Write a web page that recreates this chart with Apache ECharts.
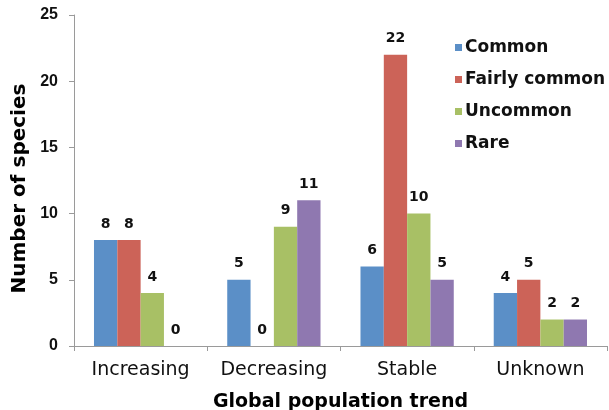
<!DOCTYPE html>
<html>
<head>
<meta charset="utf-8">
<script src="https://cdn.jsdelivr.net/npm/echarts@6/dist/echarts.min.js"></script>
<style>
  html, body { margin: 0; padding: 0; background: #fff; }
  #chart { width: 609px; height: 410px; }
</style>
</head>
<body>
<div id="chart"></div>
<script>
// Species counts by global population trend, grouped by abundance class
const trends = ['Increasing', 'Decreasing', 'Stable', 'Unknown'];
const common = [8, 5, 6, 4];
const fairlyCommon = [8, 0, 22, 5];
const uncommon = [4, 9, 10, 2];
const rare = [0, 11, 5, 2];
const yTicks = [0, 5, 10, 15, 20, 25];

const HEAVY = '"DejaVu Sans", sans-serif';
const PLAIN = '"Liberation Sans", Arial, sans-serif';

function makeSeries(name, data, color) {
  return {
    name: name,
    type: 'bar',
    data: data,
    barGap: '0%',
    barCategoryGap: '30%',
    itemStyle: { color: color },
    label: {
      show: true,
      position: 'top',
      distance: 9,
      color: '#111',
      fontFamily: HEAVY,
      fontWeight: 'bold',
      fontSize: 14
    }
  };
}

const chart = echarts.init(document.getElementById('chart'));
chart.setOption({
  animation: false,
  backgroundColor: '#fff',
  grid: { left: 74, right: 2, top: 15, bottom: 64, containLabel: false, outerBoundsMode: 'none' },
  legend: {
    orient: 'vertical',
    left: 450,
    top: 34,
    itemWidth: 7,
    itemHeight: 7,
    itemGap: 15,
    icon: 'rect',
    textStyle: { fontFamily: HEAVY, fontWeight: 'bold', fontSize: 17, color: '#111', padding: [0, 0, 0, -2] },
    data: ['Common', 'Fairly common', 'Uncommon', 'Rare']
  },
  xAxis: {
    type: 'category',
    data: trends,
    name: 'Global population trend',
    nameLocation: 'middle',
    nameGap: 47,
    nameTextStyle: { fontFamily: HEAVY, fontWeight: 'bold', fontSize: 19, color: '#000' },
    axisLine: { lineStyle: { color: '#9a9a9a' } },
    axisTick: { show: true, alignWithLabel: false, length: 5, lineStyle: { color: '#9a9a9a' } },
    axisLabel: { interval: 0, fontFamily: HEAVY, fontSize: 19, color: '#111', margin: 15 }
  },
  yAxis: {
    type: 'value',
    min: yTicks[0],
    max: yTicks[yTicks.length - 1],
    interval: 5,
    name: 'Number of species',
    nameLocation: 'middle',
    nameGap: 34,
    nameTextStyle: { fontFamily: HEAVY, fontWeight: 'bold', fontSize: 20, color: '#000', padding: [0, 16, 0, 0] },
    axisLine: { show: true, lineStyle: { color: '#9a9a9a' } },
    axisTick: { show: true, length: 5, lineStyle: { color: '#9a9a9a' } },
    splitLine: { show: false },
    axisLabel: { fontFamily: PLAIN, fontWeight: 'bold', fontSize: 16, color: '#111', margin: 16 }
  },
  series: [
    makeSeries('Common', common, '#5b8fc7'),
    makeSeries('Fairly common', fairlyCommon, '#cc6358'),
    makeSeries('Uncommon', uncommon, '#a8c065'),
    makeSeries('Rare', rare, '#8f78b0')
  ]
});
</script>
</body>
</html>
